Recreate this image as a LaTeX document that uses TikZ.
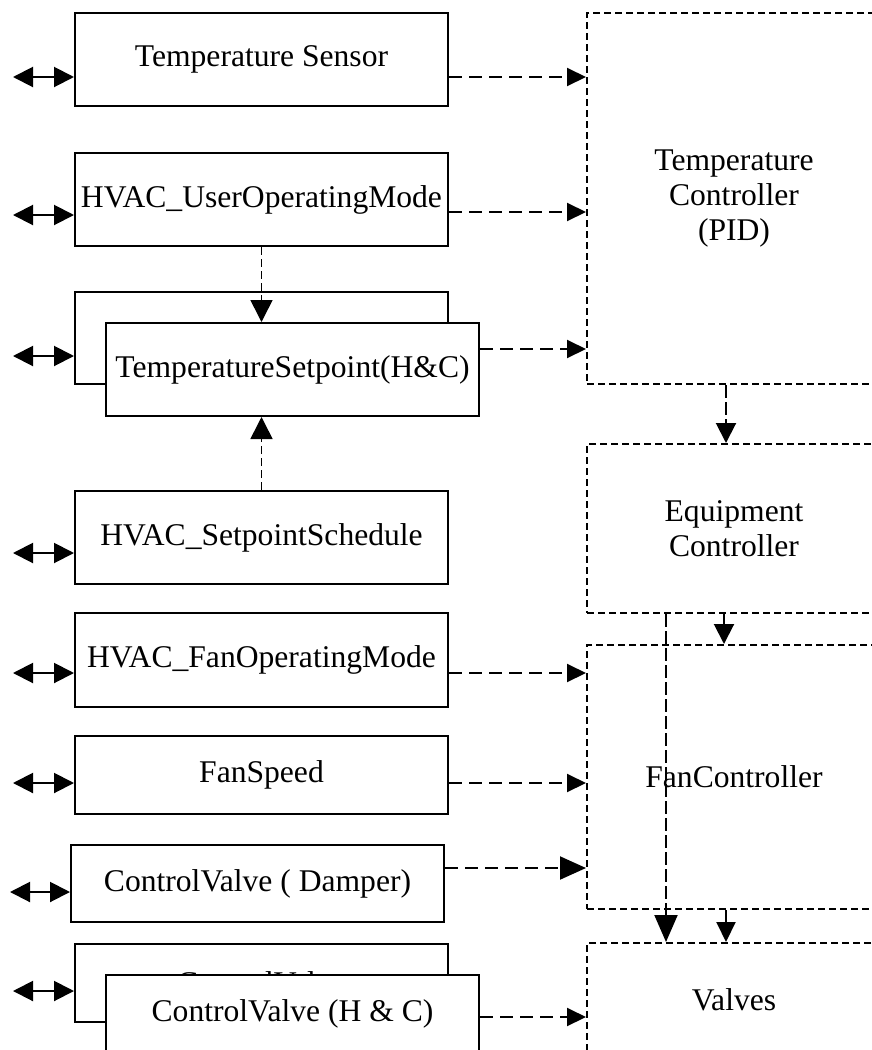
\documentclass[tikz,border=0pt]{standalone}
\usepackage{fontspec}
\setmainfont{Liberation Serif}
\usetikzlibrary{arrows.meta}

\begin{document}
\begin{tikzpicture}[x=0.5pt, y=-0.5pt,
        blk/.style = {draw, line width=1pt, fill=white, anchor=north west, inner sep=0pt,
            minimum width=186.5pt, font=\fontsize{15.8}{17.6}\selectfont},
        ctl/.style = {draw, line width=1pt, dash pattern=on 3.5pt off 2pt, anchor=north west,
            inner sep=0pt, minimum width=147pt, align=center, font=\fontsize{15.8}{17.6}\selectfont},
        io/.style = {line width=1pt, >={Triangle[length=10pt,width=10pt]}, <->},
        sig/.style = {line width=1pt, dash pattern=on 6.5pt off 3.5pt, >={Triangle[length=9.5pt,width=9pt]}, ->},
        bigsig/.style = {sig, >={Triangle[length=13pt,width=11.5pt]}},
        sub/.style = {line width=0.8pt, dash pattern=on 4pt off 2pt, >={Triangle[length=11pt,width=11pt]}, ->},
        flow/.style = {line width=1pt, >={Triangle[length=10pt,width=10pt]}, ->}]
        \useasboundingbox (0,0) rectangle (872,1050);

        % data points
        \node[blk, minimum height=46.5pt] (sensor) at (74,12) {Temperature Sensor};
        \node[blk, minimum height=46.5pt] (usermode) at (74,152) {HVAC\_UserOperatingMode};
        \node[blk, minimum height=46pt] (tspback) at (74,291) {};
        \node[blk, minimum height=46.5pt] (tsp) at (105,322) {TemperatureSetpoint(H\&C)};
        \node[blk, minimum height=46.5pt] (sched) at (74,490) {HVAC\_SetpointSchedule};
        \node[blk, minimum height=47pt] (fanmode) at (74,612) {HVAC\_FanOperatingMode};
        \node[blk, minimum height=39pt] (fanspeed) at (74,735) {FanSpeed};
        \node[blk, minimum height=38.5pt] (damper) at (70,844) {ControlValve ( Damper)};
        \node[blk, minimum height=39pt] (cvback) at (74,943) {ControlValve};
        \node[blk, minimum height=39pt] (cv) at (105,974) {ControlValve (H \& C)};

        % controllers
        \node[ctl, minimum height=185.5pt] (tc) at (586,12) {Temperature\\ Controller\\ (PID)};
        \node[ctl, minimum height=84.5pt] (ec) at (586,443) {Equipment\\ Controller};
        \node[ctl, minimum height=132pt] (fc) at (586,644) {FanController};
        \node[ctl, minimum height=57pt] (valves) at (586,942) {Valves};

        % network side
        \coordinate (in1) at (13,77);
        \coordinate (in2) at (13,215);
        \coordinate (in3) at (13,356);
        \coordinate (in4) at (13,553);
        \coordinate (in5) at (13,673);
        \coordinate (in6) at (13,783);
        \coordinate (in7) at (10,892);
        \coordinate (in8) at (13,991);
        \draw[io] (in1) -- (sensor.west |- in1);
        \draw[io] (in2) -- (usermode.west |- in2);
        \draw[io] (in3) -- (tspback.west |- in3);
        \draw[io] (in4) -- (sched.west |- in4);
        \draw[io] (in5) -- (fanmode.west |- in5);
        \draw[io] (in6) -- (fanspeed.west |- in6);
        \draw[io] (in7) -- (damper.west |- in7);
        \draw[io] (in8) -- (cvback.west |- in8);

        % inputs to controllers
        \draw[sig] (sensor.east |- 0,77) -- (tc.west |- 0,77);
        \draw[sig] (usermode.east |- 0,212) -- (tc.west |- 0,212);
        \draw[sig] (tsp.east |- 0,349) -- (tc.west |- 0,349);
        \draw[sig] (fanmode.east |- 0,673) -- (fc.west |- 0,673);
        \draw[sig] (fanspeed.east |- 0,783) -- (fc.west |- 0,783);
        \draw[bigsig] (damper.east |- 0,868) -- (fc.west |- 0,868);
        \draw[sig] (cv.east |- 0,1017) -- (valves.west |- 0,1017);

        % setpoint
        \draw[sub] (usermode.south) -- (usermode.south |- tsp.north);
        \draw[sub] (sched.north) -- (sched.north |- tsp.south);

        % controller chain
        \draw[sig, dash pattern=on 6.5pt off 2pt, >={Triangle[length=10pt,width=10pt]}] (726,0 |- tc.south) -- (726,0 |- ec.north);
        \draw[flow] (724,0 |- ec.south) -- (724,0 |- fc.north);
        \draw[sig, dash pattern=on 6.5pt off 2pt, >={Triangle[length=13.5pt,width=11.5pt]}] (666,0 |- ec.south) -- (666,0 |- valves.north);
        \draw[flow, >={Triangle[length=10pt,width=9.5pt]}] (726,0 |- fc.south) -- (726,0 |- valves.north);
\end{tikzpicture}
\end{document}
